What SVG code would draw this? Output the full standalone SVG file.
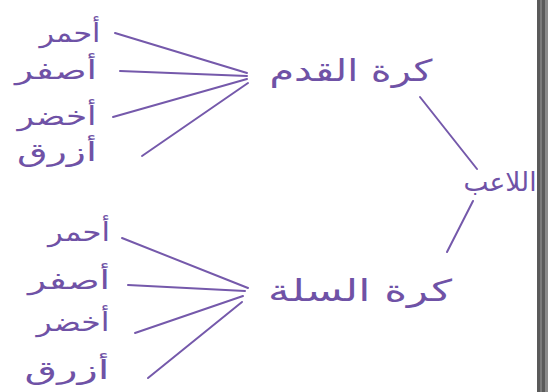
<svg xmlns="http://www.w3.org/2000/svg" width="548" height="392" viewBox="0 0 548 392">
<style>
text{font-family:"DejaVu Sans","Noto Sans",sans-serif;fill:#6f52a6;font-size:26px;direction:rtl;text-anchor:middle;dominant-baseline:central}
.big{font-size:30px}
#connectors line{stroke:#7559ab;stroke-width:2;stroke-linecap:round}
</style>
<rect x="0" y="0" width="548" height="392" fill="#ffffff"/>
<rect x="537" y="0" width="11" height="392" fill="#5a5a5a"/>
<rect x="540" y="0" width="2" height="392" fill="#7a7a7a"/>
<rect x="545" y="0" width="3" height="392" fill="#8a8a8a"/>
<g id="connectors">
<line x1="115" y1="33" x2="247" y2="73"/>
<line x1="120" y1="71" x2="247" y2="76"/>
<line x1="113" y1="117" x2="247" y2="79"/>
<line x1="142" y1="156" x2="248" y2="83"/>
<line x1="420" y1="97" x2="477" y2="169"/>
<line x1="473" y1="201" x2="447" y2="252"/>
<line x1="122" y1="238" x2="248" y2="288"/>
<line x1="128" y1="285" x2="245" y2="291"/>
<line x1="135" y1="333" x2="243" y2="296"/>
<line x1="148" y1="378" x2="242" y2="302"/>
</g>
<g id="player"><text x="500" y="182" textLength="73" lengthAdjust="spacingAndGlyphs">اللاعب</text></g>
<g id="football"><text class="big" x="351" y="70" textLength="163" lengthAdjust="spacingAndGlyphs">كرة القدم</text></g>
<g id="basketball"><text class="big" x="360" y="290" textLength="184" lengthAdjust="spacingAndGlyphs">كرة السلة</text></g>
<g id="f-red"><text x="70" y="33" textLength="61" lengthAdjust="spacingAndGlyphs">أحمر</text></g>
<g id="f-yellow"><text x="56" y="70" textLength="82" lengthAdjust="spacingAndGlyphs">أصفر</text></g>
<g id="f-green"><text x="57" y="116" textLength="79" lengthAdjust="spacingAndGlyphs">أخضر</text></g>
<g id="f-blue"><text x="57" y="152" textLength="80" lengthAdjust="spacingAndGlyphs">أزرق</text></g>
<g id="b-red"><text x="79" y="232" textLength="62" lengthAdjust="spacingAndGlyphs">أحمر</text></g>
<g id="b-yellow"><text x="69" y="280" textLength="82" lengthAdjust="spacingAndGlyphs">أصفر</text></g>
<g id="b-green"><text x="73" y="322" textLength="73" lengthAdjust="spacingAndGlyphs">أخضر</text></g>
<g id="b-blue"><text x="67" y="370" textLength="85" lengthAdjust="spacingAndGlyphs">أزرق</text></g>
</svg>
